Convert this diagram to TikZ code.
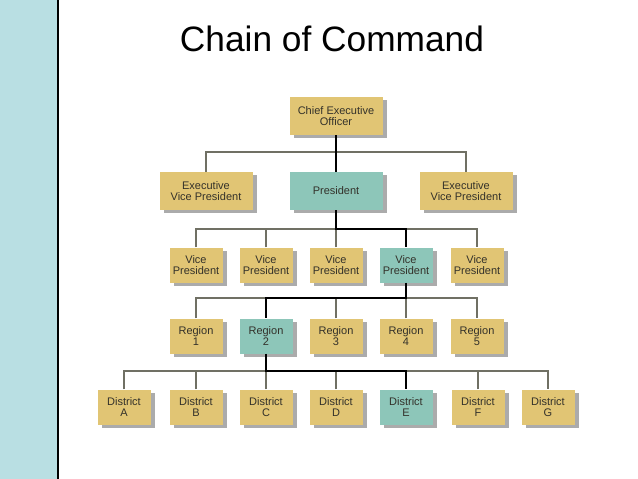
\documentclass[tikz,border=0pt]{standalone}
\usepackage{fontspec}
\setmainfont{Liberation Sans}
\usetikzlibrary{positioning, shadows}

\definecolor{tan}{HTML}{E1C574}
\definecolor{teal}{HTML}{8DC6B9}
\definecolor{strip}{HTML}{B9DFE3}
\definecolor{wire}{HTML}{707064}
\definecolor{ink}{HTML}{33312A}

\begin{document}
\begin{tikzpicture}[x=1pt, y=-1pt,
    box/.style={fill=tan, text=ink, align=center, inner sep=0pt,
        minimum width=53pt, minimum height=35pt,
        font=\fontsize{11}{11.5}\selectfont,
        drop shadow={shadow xshift=4pt, shadow yshift=-3pt, fill=black!55, opacity=0.6}},
    wide/.style={box, minimum width=93pt, minimum height=38pt},
    hot/.style={fill=teal},
    link/.style={draw=wire, line width=1.6pt},
    chain/.style={draw=black, line width=2pt}]
    \useasboundingbox (0,0) rectangle (638,479);
    \fill[strip] (0,0) rectangle (58,479);
    \draw[line width=1.2pt] (58,0) -- (58,479);
    \node[anchor=base, font=\fontsize{35.3}{38}\selectfont] (title) at (332,52) {Chain of Command};

    % top levels
    \node[wide] (ceo) at (336,116) {Chief Executive\\Officer};
    \node[wide] (evpa) at (206,191) {Executive\\Vice President};
    \node[wide, hot] (pres) at (336,191) {President};
    \node[wide] (evpb) at (466,191) {Executive\\Vice President};

    % vice presidents
    \node[box] (vp1) at (196,265) {Vice\\President};
    \node[box] (vp2) at (266,265) {Vice\\President};
    \node[box] (vp3) at (336,265) {Vice\\President};
    \node[box, hot] (vp4) at (406,265) {Vice\\President};
    \node[box] (vp5) at (477,265) {Vice\\President};

    % regions
    \node[box] (reg1) at (196,336) {Region\\1};
    \node[box, hot] (reg2) at (266,336) {Region\\2};
    \node[box] (reg3) at (336,336) {Region\\3};
    \node[box] (reg4) at (406,336) {Region\\4};
    \node[box] (reg5) at (477,336) {Region\\5};

    % districts
    \node[box] (dA) at (124,407) {District\\A};
    \node[box] (dB) at (196,407) {District\\B};
    \node[box] (dC) at (266,407) {District\\C};
    \node[box] (dD) at (336,407) {District\\D};
    \node[box, hot] (dE) at (406,407) {District\\E};
    \node[box] (dF) at (478,407) {District\\F};
    \node[box] (dG) at (548,407) {District\\G};

    \coordinate (busa) at (336,152);
    \coordinate (busb) at (336,229);
    \coordinate (busc) at (336,298);
    \coordinate (busd) at (336,371);

    % grey lines
    \draw[link] (evpa.north) -- (evpa.north |- busa) -- (evpb.north |- busa) -- (evpb.north);
    \draw[link] (vp1.north) -- (vp1.north |- busb) -- (vp5.north |- busb) -- (vp5.north);
    \foreach \n in {vp2, vp3} \draw[link] (\n.north) -- (\n.north |- busb);
    \draw[link] (reg1.north) -- (reg1.north |- busc) -- (reg5.north |- busc) -- (reg5.north);
    \foreach \n in {reg3, reg4} \draw[link] (\n.north) -- (\n.north |- busc);
    \draw[link] (dA.north) -- (dA.north |- busd) -- (dG.north |- busd) -- (dG.north);
    \foreach \n in {dB, dC, dD, dF} \draw[link] (\n.north) -- (\n.north |- busd);

    % chain of command
    \draw[chain] (ceo.south) -- (pres.north);
    \draw[chain] (pres.south) -- (busb) -- (vp4.north |- busb) -- (vp4.north);
    \draw[chain] (vp4.south) -- (vp4.south |- busc) -- (reg2.north |- busc) -- (reg2.north);
    \draw[chain] (reg2.south) -- (reg2.south |- busd) -- (dE.north |- busd) -- (dE.north);
\end{tikzpicture}
\end{document}
